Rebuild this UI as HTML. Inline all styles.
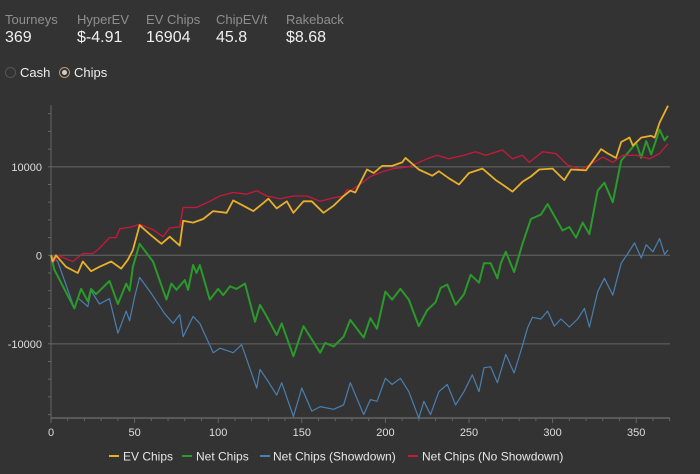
<!DOCTYPE html>
<html><head><meta charset="utf-8">
<style>
html,body{margin:0;padding:0;background:#333;}
body{width:700px;height:474px;overflow:hidden;font-family:"Liberation Sans",sans-serif;position:relative;}
.stat{position:absolute;top:12px;}
.stat .l{color:#8f8f8f;font-size:13px;line-height:15px;}
.stat .v{color:#f0f0f0;font-size:16px;line-height:20px;margin-top:1px;}
.radio{position:absolute;top:65px;color:#eee;font-size:13px;display:flex;align-items:center;}
.rb{width:11px;height:11px;border-radius:50%;border:1px solid #555;box-sizing:border-box;margin-right:4px;position:relative;}
.rb.on{border-color:#b89a6a;}
.rb.on::after{content:"";position:absolute;left:2px;top:2px;width:5px;height:5px;border-radius:50%;background:#ccc;}
svg{position:absolute;left:0;top:0;}
</style></head><body>
<div class="stat" style="left:5px"><div class="l">Tourneys</div><div class="v">369</div></div>
<div class="stat" style="left:77px"><div class="l">HyperEV</div><div class="v">$-4.91</div></div>
<div class="stat" style="left:146px"><div class="l">EV Chips</div><div class="v">16904</div></div>
<div class="stat" style="left:216px"><div class="l">ChipEV/t</div><div class="v">45.8</div></div>
<div class="stat" style="left:286px"><div class="l">Rakeback</div><div class="v">$8.68</div></div>
<div class="radio" style="left:5px"><span class="rb"></span>Cash</div>
<div class="radio" style="left:59px"><span class="rb on"></span>Chips</div>
<svg id="chart" width="700" height="474"></svg>
<script>
const evX=[0,1,3,9,16,19,24,29,36,42,46,49,53,59,66,71,77,79,85,91,97,105,109,115,121,127,130,135,141,145,151,156,163,169,175,179,182,189,193,198,204,210,212,220,228,232,238,244,250,258,266,270,276,282,287,292,300,307,311,320,329,333,338,341,346,348,353,359,361,364,369];
const evY=[0,-700,0,-1300,-2000,-700,-1800,-1300,-700,-1500,-500,600,3400,2400,1300,2100,1100,3900,3700,4100,5000,4800,6200,5600,5000,5900,6400,5300,6100,4800,6100,6100,4800,5600,6700,7300,7100,9700,9300,10100,10100,10500,11000,9700,9000,9500,8700,8000,9300,9800,8500,8000,7200,8300,8900,9700,9800,8500,9700,9600,12000,11500,11000,12800,13300,12400,13300,13500,13300,15000,16900];
const netX=[0,2,14,18,22,24,27,35,40,45,47,49,53,61,69,72,75,80,82,85,87,89,95,100,103,107,111,116,122,125,129,135,138,145,151,161,164,169,175,179,187,191,195,200,204,209,214,220,225,230,233,237,242,247,251,256,259,263,267,269,272,277,282,287,293,297,306,310,314,318,322,327,331,336,341,346,350,353,356,359,364,367,369];
const netY=[0,-1600,-6000,-3800,-5200,-3800,-4400,-2900,-5500,-3200,-4000,-1300,1300,-700,-5000,-3200,-3900,-2800,-3900,-1100,-2000,-1100,-5000,-3800,-4500,-3500,-3800,-3200,-7500,-5600,-6900,-9000,-7700,-11400,-8000,-11000,-9900,-10300,-9200,-7300,-9300,-7100,-8300,-4100,-5000,-3800,-5000,-8000,-6200,-5300,-3700,-3300,-5600,-4400,-2200,-3100,-900,-900,-2600,-900,400,-1900,1300,4100,4600,5800,2800,3200,2000,3700,2400,7300,8200,6000,10700,11800,12700,11000,12900,11400,14200,13000,13500];
const sdX=[0,4,14,16,22,24,29,35,40,45,47,50,53,60,68,73,77,79,85,89,97,101,109,114,123,125,129,135,138,145,150,156,161,169,175,179,187,191,195,200,204,209,214,220,223,227,232,237,242,247,252,256,259,263,267,272,277,282,285,288,293,297,301,305,310,315,319,322,327,331,336,341,345,349,353,356,360,364,367,369];
const sdY=[0,-700,-6000,-4800,-5800,-4000,-5500,-4900,-8800,-6300,-7400,-4700,-2500,-4300,-6600,-7700,-6700,-9200,-6900,-7700,-11000,-10500,-11000,-10100,-15000,-12900,-14000,-15800,-14400,-18200,-15000,-17600,-17100,-17400,-16900,-14400,-18000,-16300,-16500,-13900,-14600,-13900,-15400,-18400,-16500,-18000,-15400,-14600,-16900,-15400,-13500,-15400,-12700,-12600,-14400,-11200,-13300,-10200,-8200,-7000,-7200,-6300,-8000,-7200,-8100,-7200,-6000,-8100,-4100,-2600,-4500,-900,200,1400,-300,1200,400,1900,100,600];
const nsdX=[0,2,4,13,19,25,29,35,39,41,48,53,61,67,71,77,79,87,95,101,109,117,123,129,137,145,153,161,169,175,177,179,187,191,199,205,214,225,231,238,247,254,260,270,276,282,286,294,302,309,317,322,330,336,342,350,358,364,369];
const nsdY=[0,-700,0,-700,200,200,800,2000,2000,3000,3200,3500,2900,2100,3100,3200,5400,5400,6100,6700,7100,6900,7300,6700,6400,6700,6700,6100,6500,6700,7400,7300,8300,8900,9500,9800,10000,10900,11300,10900,11300,11700,11300,11900,10900,11300,10500,11700,11500,10200,9700,10200,11100,10500,11300,11300,10900,11500,12600];
const yTicks=[10000,0,-10000];
const xTicks=[0,50,100,150,200,250,300,350];
const seriesNames=["EV Chips","Net Chips","Net Chips (Showdown)","Net Chips (No Showdown)"];

const svg=document.getElementById('chart');
const NS='http://www.w3.org/2000/svg';
const X0=51,PXU=1.672,Y0=255.3,PYU=88.5/10000,TOP=105,BOT=418,RIGHT=670;
const xs=t=>X0+t*PXU, ys=v=>Y0-v*PYU;
function mk(tag,attrs){const e=document.createElementNS(NS,tag);for(const k in attrs)e.setAttribute(k,attrs[k]);svg.appendChild(e);return e;}
// grid
yTicks.forEach(v=>{
 const g=mk('line',{x1:X0,x2:RIGHT,y1:ys(v),y2:ys(v),stroke:'#585858','stroke-width':1.3});
 
 
 const t=mk('text',{x:42,y:ys(v)+4,fill:'#ddd','font-size':11,'text-anchor':'end','font-family':'Liberation Sans, sans-serif'});
 t.textContent=v;
 
 
});
for(let v=-18000;v<=16000;v+=2000){const m=mk('line',{x1:X0-3,x2:X0,y1:ys(v),y2:ys(v),stroke:'#666'});
 
 }
const ya=mk('line',{x1:X0,x2:X0,y1:TOP,y2:BOT,stroke:'#666'});


const xa=mk('line',{x1:X0,x2:RIGHT,y1:BOT,y2:BOT,stroke:'#666','stroke-width':1.5});


for(let t=0;t<=370;t+=10){const m=mk('line',{x1:xs(t),x2:xs(t),y1:BOT,y2:BOT+(t%50?3:5),stroke:'#666'});
 
 }
xTicks.forEach(t=>{const e=mk('text',{x:xs(t),y:436,fill:'#ddd','font-size':11,'text-anchor':'middle','font-family':'Liberation Sans, sans-serif'});
 e.textContent=t;
 
 });
function line(X,Y,col,w,name){
 const p=mk('polyline',{points:X.map((t,i)=>xs(t).toFixed(1)+','+ys(Y[i]).toFixed(1)).join(' '),fill:'none',stroke:col,'stroke-width':w,'stroke-linejoin':'round'});
 
 
}
line(sdX,sdY,'#4a7fb0',1.2,'series-net-chips-showdown');
line(netX,netY,'#2a9a2a',2,'series-net-chips');
line(nsdX,nsdY,'#c8193c',1.3,'series-net-chips-no-showdown');
line(evX,evY,'#e8b02a',1.8,'series-ev-chips');
// legend
const lg=[[109,123,'#e8b02a'],[182,196,'#2a9a2a'],[260,273,'#4a7fb0'],[408,422,'#c8193c']];
lg.forEach((l,i)=>{
 const s=mk('line',{x1:l[0],x2:l[0]+10,y1:456,y2:456,stroke:l[2],'stroke-width':2});
 
 
 const t=mk('text',{x:l[1],y:460.5,fill:'#e6e6e6','font-size':12,'font-family':'Liberation Sans, sans-serif'});
 t.textContent=seriesNames[i];
 
 
});
</script>
</body></html>
